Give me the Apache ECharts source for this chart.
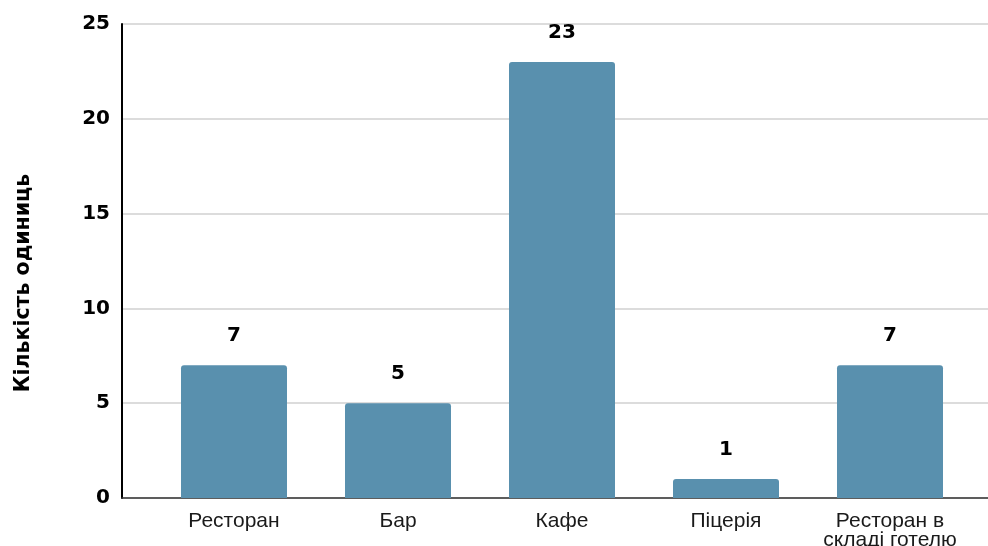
<!DOCTYPE html>
<html><head><meta charset="utf-8">
<script src="https://cdn.jsdelivr.net/npm/echarts@6/dist/echarts.min.js"></script>
<style>html,body{margin:0;padding:0;background:#fff}#c{width:988px;height:546px}</style>
</head><body><div id="c"></div>
<script>
const categories = ['Ресторан', 'Бар', 'Кафе', 'Піцерія', 'Ресторан в\nскладі готелю'];
const values = [7, 5, 23, 1, 7];
const yTicks = { min: 0, max: 25, interval: 5 };
const yName = 'Кількість одиниць';

const chart = echarts.init(document.getElementById('c'), null, { renderer: 'canvas' });
const FB = 'DejaVu Sans, Arial, sans-serif';
const FR = 'Liberation Sans, Arial, sans-serif';
chart.setOption({
  animation: false,
  grid: [
    { left: 122, right: 0, top: 24, bottom: 48, outerBoundsMode: 'none', containLabel: false },
    { left: 152, right: 16, top: 24, bottom: 48, outerBoundsMode: 'none', containLabel: false }
  ],
  xAxis: [
    { type: 'category', gridIndex: 0, data: categories, axisLabel: { show: false }, axisTick: { show: false },
      axisLine: { show: true, lineStyle: { color: '#333', width: 1.5 } } },
    { type: 'category', gridIndex: 1, data: categories, axisTick: { show: false }, axisLine: { show: false },
      axisLabel: { color: '#1a1a1a', fontFamily: FR, fontSize: 21, margin: 14, lineHeight: 19, interval: 0 } }
  ],
  yAxis: [
    { type: 'value', gridIndex: 0, min: yTicks.min, max: yTicks.max, interval: yTicks.interval,
      name: yName, nameLocation: 'middle', nameGap: 88, nameRotate: 90,
      nameTextStyle: { color: '#000', fontFamily: FB, fontWeight: 'bold', fontSize: 20.5, padding: [0, 44, 0, 0] },
      axisLine: { show: true, lineStyle: { color: '#000', width: 2 } }, axisTick: { show: false },
      axisLabel: { color: '#000', fontFamily: FB, fontWeight: 'bold', fontSize: 20, margin: 12 },
      splitLine: { show: true, lineStyle: { color: '#d0d0d0', width: 1.5 } } },
    { type: 'value', gridIndex: 1, min: yTicks.min, max: yTicks.max, interval: yTicks.interval,
      show: false, splitLine: { show: false } }
  ],
  series: [{
    type: 'bar', xAxisIndex: 1, yAxisIndex: 1, data: values, barWidth: 106,
    itemStyle: { color: '#5990ae', borderRadius: [3, 3, 0, 0] },
    label: { show: true, position: 'top', distance: 19, color: '#000', fontFamily: FB, fontWeight: 'bold', fontSize: 20 }
  }]
});
</script></body></html>
